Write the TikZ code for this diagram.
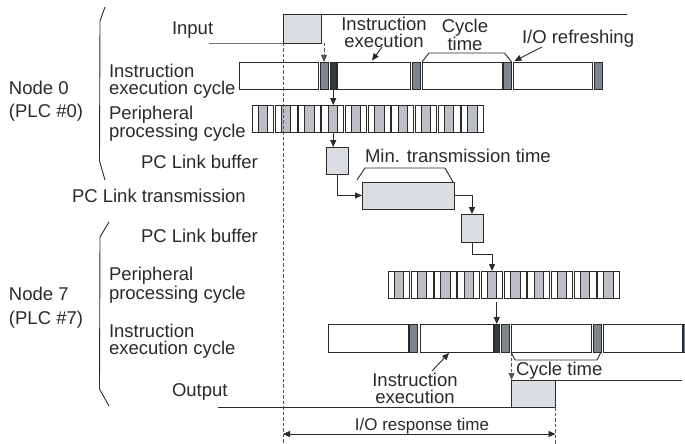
\documentclass[tikz,border=0pt]{standalone}
\usepackage{fontspec}
\setmainfont{Liberation Sans}
\usetikzlibrary{arrows.meta,calc}
\definecolor{lg}{HTML}{DADDE1}
\definecolor{pg}{HTML}{BCC0C6}
\definecolor{iog}{HTML}{7E868D}
\definecolor{dk}{HTML}{333C39}
\definecolor{ln}{HTML}{2A2A2A}
\newcommand{\boxat}[6]{\node[bx,#2,minimum width={#5-#3},minimum height={#6-#4}] (#1) at (#3,#4) {};}
\begin{document}
\begin{tikzpicture}[x=1pt,y=-1pt,
  every node/.style={inner sep=0pt, outer sep=0pt},
  lbl/.style={font=\fontsize{18.5}{17}\selectfont, text=ln},
  bx/.style={draw=ln, line width=0.9pt, rectangle, anchor=north west},
  sig/.style={draw=ln, line width=0.9pt},
  arr/.style={sig, -{Triangle[length=7pt,width=6pt]}},
  dsh/.style={draw=ln!80, line width=0.8pt, dash pattern=on 3.5pt off 2pt},
  dsharr/.style={dsh, -{Triangle[length=7pt,width=6pt]}},
]
\useasboundingbox (0,0) rectangle (685,444);
\clip (0,0) rectangle (685,444);

% named free ends
\coordinate (inL) at (209,43);
\coordinate (inR) at (627,14);
\coordinate (outL) at (218,407);
\coordinate (outR) at (682,380);
\coordinate (bot) at (0,444);
\coordinate (resp) at (0,434);

% ---------- braces ----------
\coordinate (b0a) at (105,7);  \coordinate (b0b) at (100,21);
\coordinate (b0c) at (99.5,161); \coordinate (b0d) at (105,180);
\draw[sig] (b0a) -- (b0b) -- (b0c) -- (b0d);
\coordinate (b7a) at (109,222);  \coordinate (b7b) at (100,237);
\coordinate (b7c) at (99.5,389); \coordinate (b7d) at (109,406);
\draw[sig] (b7a) -- (b7b) -- (b7c) -- (b7d);

% ---------- left labels ----------
\node[lbl, anchor=base west] (tin) at (172,35) {Input};
\node[lbl, anchor=north west, align=left] (tn0) at (9,80.7) {Node 0\\[6pt](PLC \#0)};
\node[lbl, anchor=north west, align=left] (tie0) at (109,64.3) {Instruction\\execution cycle};
\node[lbl, anchor=north west, align=left] (tpp0) at (109,106.3) {Peripheral\\processing cycle};
\node[lbl, anchor=base west] (tbuf0) at (141,168) {PC Link buffer};
\node[lbl, anchor=base west] (ttr) at (72,202) {PC Link transmission};
\node[lbl, anchor=base west] (tbuf7) at (141,242) {PC Link buffer};
\node[lbl, anchor=north west, align=left] (tpp7) at (109,267.5) {Peripheral\\processing cycle};
\node[lbl, anchor=north west, align=left] (tn7) at (9,286.7) {Node 7\\[7pt](PLC \#7)};
\node[lbl, anchor=north west, align=left] (tie7) at (109,324.5) {Instruction\\execution cycle};
\node[lbl, anchor=base west] (tout) at (172,396.7) {Output};

% ---------- input signal ----------
\boxat{inbox}{fill=lg}{283}{14}{321}{43}
\draw[sig] (inL) -- (inbox.south west) -- ++(14,0);
\draw[sig] (inbox.north east) -- (inR);

% ---------- node 0 instruction execution cycle ----------
\boxat{w0a}{fill=white}{239}{62}{318}{89}
\boxat{io0a}{fill=iog}{320}{62}{328}{89}
\boxat{dk0}{fill=dk}{330}{62}{336.5}{89}
\boxat{w0b}{fill=white}{337}{62}{410}{89}
\boxat{io0b}{fill=iog}{412}{62}{420}{89}
\boxat{w0c}{fill=white}{422}{62}{502}{89}
\boxat{io0c}{fill=iog}{503.5}{62}{511.5}{89}
\boxat{w0d}{fill=white}{513}{62}{592}{89}
\boxat{io0d}{fill=iog}{594}{62}{602}{89}

% ---------- node 0 peripheral processing cycle ----------
\foreach \i in {0,...,9}{
  \pgfmathsetmacro\xa{252+23.3*\i}
  \node[bx, fill=white, minimum width=21.7, minimum height=27] (p0-\i) at (\xa,105) {};
  \node[bx, fill=pg, minimum width=9.3, minimum height=27] (p0g-\i) at (\xa+6.2,105) {};
}

% ---------- PC link ----------
\boxat{buf0}{fill=lg}{326}{147}{348}{174}
\boxat{trans}{fill=lg}{362}{182}{454}{209}
\boxat{buf7}{fill=lg}{461}{214}{483}{242}

% ---------- node 7 peripheral processing cycle ----------
\foreach \i in {0,...,9}{
  \pgfmathsetmacro\xa{388+23.3*\i}
  \node[bx, fill=white, minimum width=21.7, minimum height=27] (p7-\i) at (\xa,271) {};
  \node[bx, fill=pg, minimum width=9.3, minimum height=27] (p7g-\i) at (\xa+6.2,271) {};
}

% ---------- node 7 instruction execution cycle ----------
\boxat{w7a}{fill=white}{328}{324}{408}{352}
\boxat{io7a}{fill=iog}{409.5}{324}{417.5}{352}
\boxat{w7b}{fill=white}{420}{324}{493}{352}
\boxat{dk7}{fill=dk}{494}{324}{499.5}{352}
\boxat{io7b}{fill=iog}{501}{324}{509}{352}
\boxat{w7c}{fill=white}{511}{324}{591}{352}
\boxat{io7c}{fill=iog}{593}{324}{601}{352}
\boxat{w7d}{fill=white}{603}{324}{682}{352}
\boxat{io7d}{fill=iog}{683.5}{324}{691.5}{352}

% ---------- output signal ----------
\boxat{outbox}{fill=lg}{511.5}{380}{555.5}{407}
\draw[sig] (outL) -- (outbox.south west);
\draw[sig] (outbox.north east) -- (outR);

% ---------- connectors ----------
\draw[dsharr] (io0a.north |- inbox.south) -- (io0a.north);
\draw[arr] (dk0.south) -- (dk0.south |- p0-3.north);
\draw[arr] (dk0.south |- p0-3.south) -- (dk0.south |- buf0.north);
\draw[arr] (buf0.south) |- (trans.west);
\draw[arr] (trans.east) -| (buf7.north);
\draw[arr] (buf7.south) -- ++(0,12) -| (p7-4.north);
\draw[arr] ($(dk7.north |- p7-4.south)+(0,4)$) -- (dk7.north);
\draw[dsharr] (outbox.north west |- w7c.south) -- (outbox.north west);

% ---------- top annotations ----------
\node[lbl, anchor=north, align=center] (tinstr0) at (384,17.5) {Instruction\\execution};
\draw[arr] ($(w0b.north west)+(45,-15)$) -- ($(w0b.north west)+(35,-1.5)$);
\node[lbl, anchor=north, align=center] (tcyc0) at (465,18.7) {Cycle\\time};
\draw[sig] (w0c.north west) -- ++(7,-9) -- ($(io0c.north east)+(-7,-9)$) -- (io0c.north east);
\node[lbl, anchor=base west] (tref) at (522,43.3) {I/O refreshing};
\draw[arr] ($(w0d.north west)+(29,-15)$) -- ($(w0d.north west)+(1.5,-1)$);

\node[lbl, anchor=base west] (tmin) at (365,162.3) {Min. transmission time};
\draw[sig] ($(trans.north west)+(-5,-2)$) -- ($(trans.north west)+(3,-14)$) -- ($(trans.north east)+(-9,-14)$) -- ($(trans.north east)+(-1,0)$);

% ---------- bottom annotations ----------
\draw[sig] (w7c.south west) -- ++(4,8) -- ($(io7c.south east)+(-4,8)$) -- (io7c.south east);
\node[lbl, anchor=base west] (tcyc7) at (516,375) {Cycle time};
\node[lbl, anchor=north, align=center] (tinstr7) at (415,373.4) {Instruction\\execution};
\draw[arr] ($(w7b.south west)+(12,19)$) -- ($(w7b.south west)+(29,1)$);

% ---------- dashed guides and response time ----------
\draw[dsh] (inbox.south west) -- (inbox.south west |- bot);
\draw[dsh] (outbox.south east) -- (outbox.south east |- bot);
\draw[sig, {Triangle[length=7pt,width=6pt]}-{Triangle[length=7pt,width=6pt]}] (inbox.south west |- resp) -- (outbox.south east |- resp);
\node[font=\fontsize{17}{17}\selectfont, text=ln, anchor=base] (tresp) at (422,430) {I/O response time};
\end{tikzpicture}
\end{document}
